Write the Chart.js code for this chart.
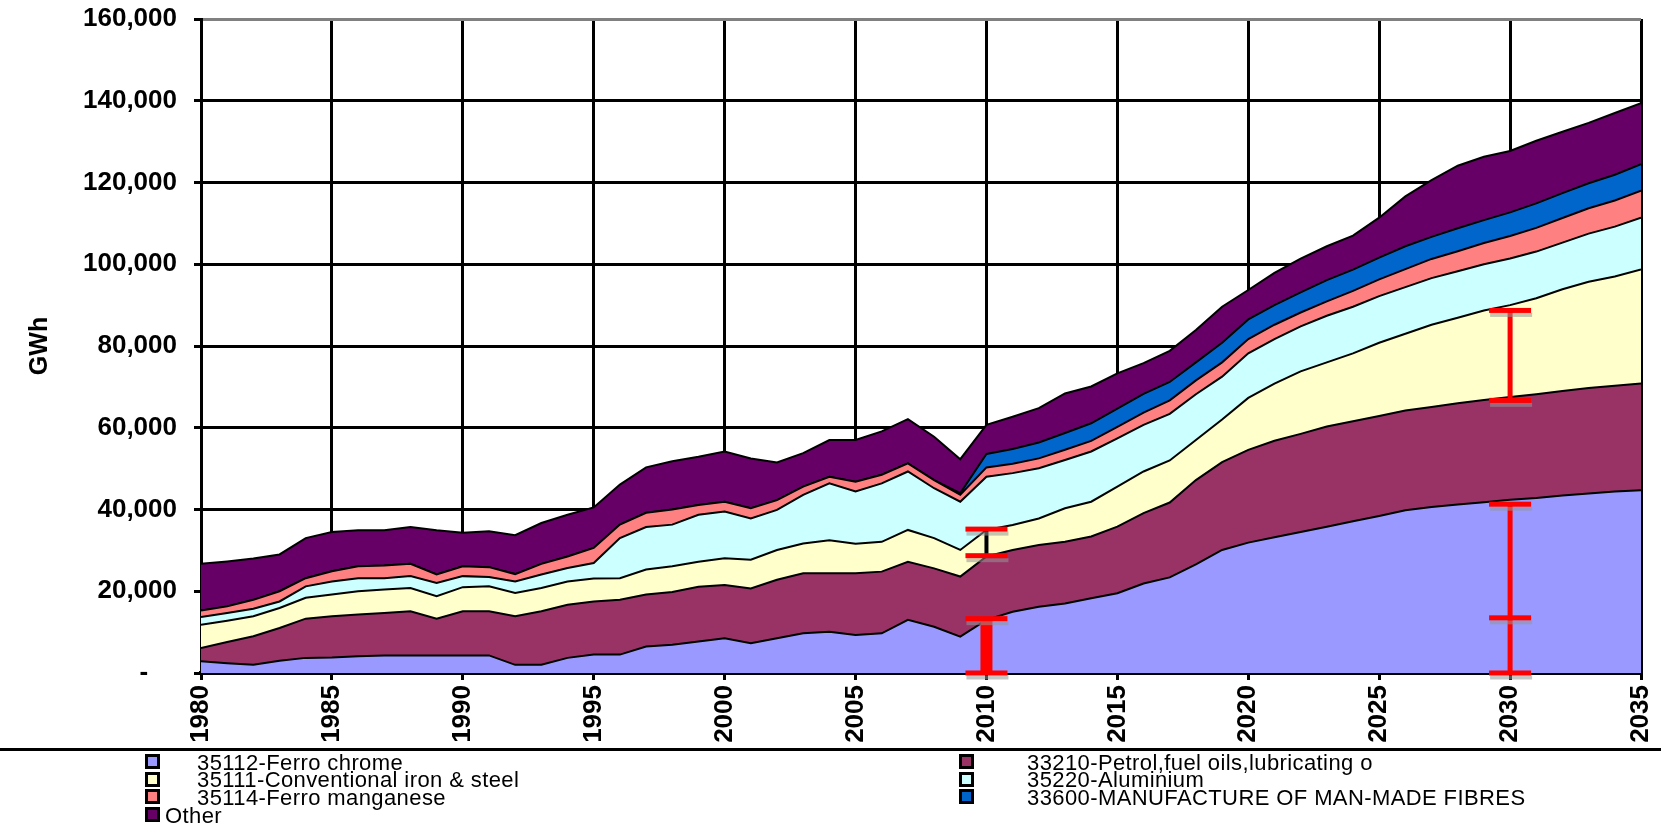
<!DOCTYPE html>
<html>
<head>
<meta charset="utf-8">
<script src="https://cdn.jsdelivr.net/npm/chart.js@4.4.1/dist/chart.umd.min.js"></script>
<style>
  html, body { margin: 0; padding: 0; background: #fff; }
  #wrap { position: relative; width: 1661px; height: 827px; overflow: hidden; background: #fff; }
  #c { position: absolute; left: 0; top: 0; }
  #sep { position: absolute; left: 0; top: 748px; width: 1661px; height: 3px; background: #000; }
  .lbox { position: absolute; width: 9px; height: 9px; border: 3px solid #000; }
  .ltxt { position: absolute; font-family: "Liberation Sans", Arial, sans-serif; font-size: 22px;
          letter-spacing: 0.4px; line-height: 18px; color: #000; white-space: pre; }
</style>
</head>
<body>
<div id="wrap">
  <canvas id="c" width="1661" height="827"></canvas>
  <div id="sep"></div>
  <div id="legend"></div>
</div>
<script>
// ---------- data (GWh) ----------
const years = [1980,1981,1982,1983,1984,1985,1986,1987,1988,1989,
               1990,1991,1992,1993,1994,1995,1996,1997,1998,1999,
               2000,2001,2002,2003,2004,2005,2006,2007,2008,2009,
               2010,2011,2012,2013,2014,2015,2016,2017,2018,2019,
               2020,2021,2022,2023,2024,2025,2026,2027,2028,2029,
               2030,2031,2032,2033,2034,2035];

const ferroChrome = [2900,2400,2000,3000,3700,3800,4100,4300,4300,4300,
                     4300,4300,2000,2000,3700,4500,4500,6500,6900,7700,
                     8500,7300,8500,9700,10100,9300,9700,13000,11300,8900,
                     13000,15000,16200,17000,18300,19500,21900,23400,26600,30100,
                     31900,33200,34500,35800,37100,38400,39800,40600,41200,41800,
                     42400,42800,43400,43900,44400,44700];

const petrol = [3200,5200,7000,8000,9600,10100,10200,10400,10800,9000,
                10800,10800,11900,13100,13000,13000,13400,12700,12900,13400,
                13000,13400,14300,14700,14300,15100,15100,14200,14300,14700,
                15500,15100,15100,15100,15100,16300,17200,18300,20600,21500,
                22700,23600,24000,24500,24500,24500,24400,24500,24800,25000,
                25100,25400,25600,25800,25900,26100];

const ironSteel = [5700,5200,4900,4900,5100,5300,5700,5700,5700,5500,
                   5900,6100,5700,5700,5700,5600,5300,6100,6300,6100,
                   6600,7000,7300,7300,8100,7200,7300,7800,7400,6500,
                   6500,6100,6500,8200,8500,9800,10200,10300,9800,10400,
                   12700,14000,15300,15700,16600,17900,18800,20100,20900,21900,
                   22500,23500,24900,26000,26700,27900];

const aluminium = [1900,1900,1800,1600,2800,3200,3200,2800,2900,3200,
                   2700,2300,2800,3300,3300,3800,9800,10400,10200,11500,
                   11400,10100,9800,11900,13900,12800,14300,14300,12200,11800,
                   13000,12700,12300,11800,12300,11800,11400,11400,11200,10500,
                   10900,10900,11000,11400,11400,11400,11400,11400,11400,11300,
                   11400,11400,11400,11800,12200,12700];

const ferroManganese = [1600,1600,2200,2500,2000,2500,2900,3100,3000,2100,
                        2400,2400,1800,2600,2800,3700,3300,3500,3700,2400,
                        2400,2500,2400,2000,1600,2400,2100,2000,2000,1700,
                        2300,2300,2400,2500,2600,2800,3000,3300,3400,3500,
                        3500,3500,3400,3500,3900,4100,4400,4700,4900,5200,
                        5500,5800,6000,6200,6400,6600];

const manMadeFibres = [0,0,0,0,0,0,0,0,0,0,
                       0,0,0,0,0,0,0,0,0,0,
                       0,0,0,0,0,0,0,0,0,400,
                       3300,3600,3900,4100,4300,4500,4600,4500,4400,4800,
                       4800,4800,4900,5200,5200,5300,5600,5400,5600,5600,
                       5800,6000,6100,6100,6300,6500];

const other = [11400,11000,10100,9000,9800,9600,8800,8600,9000,10800,
               8200,8800,9500,10000,10200,9900,9800,11100,11800,11800,
               12300,12200,9200,8200,9000,10200,10600,10800,10600,8300,
               7100,7900,8400,9700,9000,8600,7500,7600,7900,8800,
               7200,7900,8300,8300,8300,9800,12200,13900,15300,15500,
               15000,15300,15000,14800,15100,14900];

const seriesLabels = ['35112-Ferro chrome','33210-Petrol,fuel oils,lubricating o',
  '35111-Conventional iron & steel','35220-Aluminium','35114-Ferro manganese',
  '33600-MANUFACTURE OF MAN-MADE FIBRES','Other'];
const seriesValues = [ferroChrome, petrol, ironSteel, aluminium, ferroManganese, manMadeFibres, other];
const seriesColors = ['#9999FF','#993366','#FFFFCC','#CCFFFF','#FF8080','#0066CC','#660066'];

// error bars (range markers)
const barYears = [2010, 2010, 2030, 2030];
const barLow   = [0, 28700, 0, 66700];
const barHigh  = [13300, 35200, 41300, 88700];
const barMid   = [null, null, 13500, null];

const yTickMin = 0, yTickMax = 160000, yTickStep = 20000;
const xTickMin = 1980, xTickMax = 2035, xTickStep = 5;

// ---------- chart ----------
const FONT = '"Liberation Sans", Arial, sans-serif';
const stemStyle = [
  {color: '#FF0000', width: 12},
  {color: '#000000', width: 4},
  {color: '#FF0000', width: 5},
  {color: '#FF0000', width: 5}
];

const errorBarPlugin = {
  id: 'errorBars',
  afterDatasetsDraw(chart) {
    const {ctx, scales: {x, y}} = chart;
    ctx.save();
    const capW = 42, capH = 5;
    const cap = (px, val) => {
      const py = y.getPixelForValue(val);
      ctx.fillStyle = 'rgba(150,150,150,0.55)';
      ctx.fillRect(px - capW / 2 + 1, py + capH / 2, capW, 4);
      ctx.fillStyle = '#FF0000';
      ctx.fillRect(px - capW / 2, py - capH / 2, capW, capH);
    };
    barYears.forEach((yr, i) => {
      const px = x.getPixelForValue(yr);
      const pLo = y.getPixelForValue(barLow[i]);
      const pHi = y.getPixelForValue(barHigh[i]);
      const st = stemStyle[i];
      ctx.fillStyle = st.color;
      ctx.fillRect(px - st.width / 2, pHi, st.width, pLo - pHi);
      cap(px, barLow[i]);
      cap(px, barHigh[i]);
      if (barMid[i] !== null) cap(px, barMid[i]);
    });
    ctx.restore();
  }
};

const datasets = seriesValues.map((vals, i) => ({
  label: seriesLabels[i],
  data: years.map((yr, j) => ({x: yr, y: vals[j]})),
  backgroundColor: seriesColors[i],
  borderColor: '#000000',
  borderWidth: 2,
  pointRadius: 0,
  pointHoverRadius: 0,
  tension: 0,
  fill: i === 0 ? 'origin' : '-1'
}));

const zeroPad = s => { s.paddingTop = 0; s.paddingBottom = 0; s.paddingLeft = 0; s.paddingRight = 0; };

const chart = new Chart(document.getElementById('c'), {
  type: 'line',
  data: { datasets },
  plugins: [errorBarPlugin],
  options: {
    responsive: false,
    animation: false,
    devicePixelRatio: 1,
    events: [],
    layout: { padding: { top: 19, right: 20, bottom: 0, left: 0 } },
    plugins: { legend: { display: false }, tooltip: { enabled: false } },
    scales: {
      x: {
        type: 'linear',
        min: xTickMin, max: xTickMax,
        ticks: {
          stepSize: xTickStep, autoSkip: false, maxRotation: 90, minRotation: 90, padding: 5,
          color: '#000', font: { family: FONT, size: 26, weight: 'bold' },
          callback: v => String(v)
        },
        grid: { color: '#000', lineWidth: 3, tickLength: 7, tickColor: '#000' },
        border: { color: '#000', width: 4 },
        afterFit: s => { s.height = 154; zeroPad(s); }
      },
      y: {
        stacked: true,
        min: yTickMin, max: yTickMax,
        ticks: {
          stepSize: yTickStep, padding: 17, color: '#000',
          font: { family: FONT, size: 26, weight: 'bold' },
          callback: v => v === 0 ? '-    ' : v.toLocaleString('en-US')
        },
        grid: {
          color: c => (c.tick && c.tick.value === yTickMax) ? '#808080' : '#000',
          lineWidth: 3, tickLength: 7, tickColor: '#000'
        },
        border: { color: '#000', width: 3 },
        title: {
          display: true, text: 'GWh', color: '#000',
          font: { family: FONT, size: 25, weight: 'bold' },
          padding: { top: 25, bottom: 0 }
        },
        afterFit: s => { s.width = 201; zeroPad(s); }
      }
    }
  }
});

// ---------- HTML legend built from chart datasets ----------
(function buildLegend() {
  const host = document.getElementById('legend');
  const boxLeft = [145, 959];
  const textLeft = [197, 1027];
  const baseTop = 753.5, rowStep = 17.7;
  chart.data.datasets.forEach((ds, i) => {
    const row = Math.floor(i / 2), col = i % 2;
    const top = baseTop + row * rowStep;
    const b = document.createElement('div');
    b.className = 'lbox';
    b.style.left = boxLeft[col] + 'px';
    b.style.top = (top + 0.5) + 'px';
    b.style.background = ds.backgroundColor;
    host.appendChild(b);
    const t = document.createElement('div');
    t.className = 'ltxt';
    t.textContent = ds.label;
    t.style.left = (ds.label === 'Other' ? 165 : textLeft[col]) + 'px';
    t.style.top = top + 'px';
    host.appendChild(t);
  });
})();
</script>
</body>
</html>
